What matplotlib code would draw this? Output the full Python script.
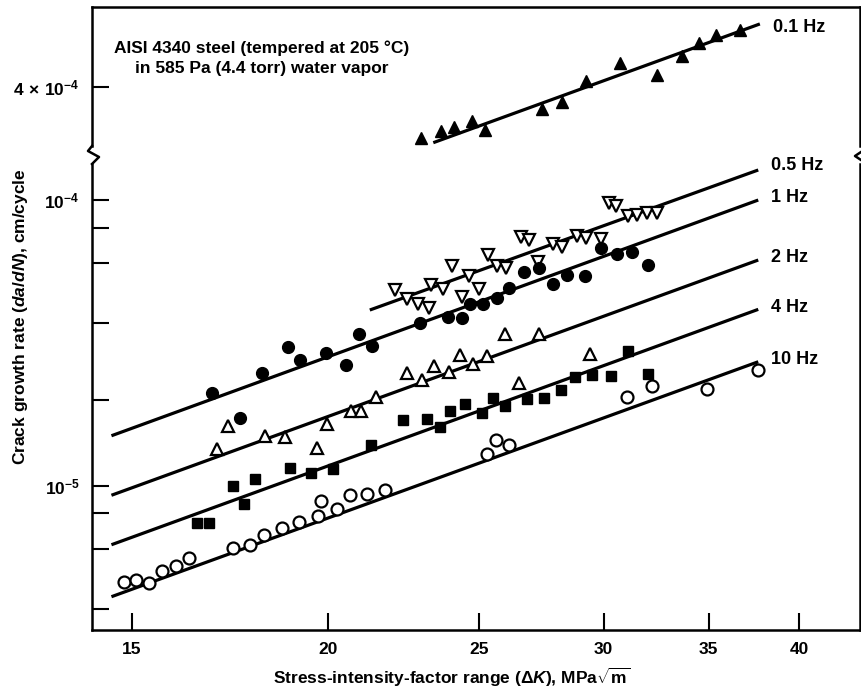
import matplotlib
matplotlib.use("Agg")
import matplotlib.pyplot as plt
from matplotlib.lines import Line2D

plt.rcParams['font.family'] = ['Liberation Sans', 'DejaVu Sans']
plt.rcParams['mathtext.fontset'] = 'custom'
plt.rcParams['mathtext.rm'] = 'Liberation Sans:bold'
plt.rcParams['mathtext.it'] = 'Liberation Sans:italic:bold'
plt.rcParams['mathtext.bf'] = 'Liberation Sans:bold'

# ---- data (dK in MPa*sqrt(m), da/dN in cm/cycle) ----
dk_01hz = [22.94, 23.62, 24.09, 24.72, 25.21, 27.39, 28.23, 29.24, 30.73, 32.45,
           33.65, 34.50, 35.36, 36.65]
rate_01hz = [2.64e-4, 2.80e-4, 2.90e-4, 3.04e-4, 2.82e-4, 3.33e-4, 3.54e-4, 4.20e-4,
             4.83e-4, 4.40e-4, 5.12e-4, 5.70e-4, 6.07e-4, 6.32e-4]

dk_05hz = [22.09, 22.49, 22.84, 23.21, 23.28, 23.68, 24.01, 24.35, 24.63, 24.98,
           25.32, 25.66, 26.00, 26.57, 26.89, 27.25, 27.86, 28.23, 28.84, 29.24,
           29.90, 30.24, 30.56, 31.09, 31.50, 31.97, 32.43]
rate_05hz = [4.86e-5, 4.50e-5, 4.33e-5, 4.20e-5, 5.06e-5, 4.88e-5, 5.86e-5, 4.59e-5,
             5.44e-5, 4.88e-5, 6.42e-5, 5.86e-5, 5.80e-5, 7.44e-5, 7.26e-5, 6.08e-5,
             7.03e-5, 6.83e-5, 7.48e-5, 7.36e-5, 7.30e-5, 9.74e-5, 9.53e-5, 8.79e-5,
             8.83e-5, 9.04e-5, 9.04e-5]

dk_1hz = [16.88, 17.58, 18.17, 18.88, 19.22, 19.95, 20.55, 20.93, 21.35, 22.91,
          23.87, 24.38, 24.66, 25.12, 25.64, 26.10, 26.69, 27.28, 27.87, 28.41,
          29.21, 29.88, 30.58, 31.27, 32.04]
rate_1hz = [2.11e-5, 1.72e-5, 2.49e-5, 3.07e-5, 2.75e-5, 2.92e-5, 2.64e-5, 3.40e-5,
            3.09e-5, 3.72e-5, 3.91e-5, 3.85e-5, 4.33e-5, 4.33e-5, 4.54e-5, 4.91e-5,
            5.60e-5, 5.76e-5, 5.07e-5, 5.47e-5, 5.43e-5, 6.77e-5, 6.45e-5, 6.56e-5,
            5.90e-5]

dk_2hz = [16.99, 17.28, 18.24, 18.79, 19.70, 19.98, 20.71, 21.01, 21.47, 22.48,
          22.99, 23.38, 23.91, 24.31, 24.77, 25.26, 25.96, 26.49, 27.30, 29.42]
rate_2hz = [1.34e-5, 1.62e-5, 1.49e-5, 1.48e-5, 1.355e-5, 1.65e-5, 1.82e-5, 1.82e-5,
            2.05e-5, 2.49e-5, 2.34e-5, 2.62e-5, 2.51e-5, 2.87e-5, 2.66e-5, 2.84e-5,
            3.40e-5, 2.29e-5, 3.39e-5, 2.90e-5]

dk_4hz = [16.51, 16.80, 17.41, 17.69, 17.99, 18.92, 19.53, 20.16, 21.33, 22.33,
          23.15, 23.59, 23.93, 24.46, 25.08, 25.50, 25.97, 26.80, 27.47, 28.19,
          28.76, 29.50, 30.34, 31.09, 32.03]
rate_4hz = [7.39e-6, 7.39e-6, 9.98e-6, 8.61e-6, 1.055e-5, 1.156e-5, 1.105e-5, 1.14e-5,
            1.39e-5, 1.70e-5, 1.71e-5, 1.61e-5, 1.83e-5, 1.94e-5, 1.80e-5, 2.02e-5,
            1.90e-5, 2.01e-5, 2.02e-5, 2.16e-5, 2.41e-5, 2.45e-5, 2.43e-5, 2.96e-5,
            2.46e-5]

dk_10hz = [14.83, 15.10, 15.39, 15.68, 16.00, 16.32, 17.40, 17.84, 18.21, 18.70,
           19.18, 19.72, 19.82, 20.29, 20.67, 21.20, 21.77, 25.27, 25.62, 26.12,
           31.03, 32.21, 34.91, 37.65]
rate_10hz = [4.60e-6, 4.66e-6, 4.58e-6, 5.02e-6, 5.24e-6, 5.57e-6, 6.04e-6, 6.19e-6,
             6.72e-6, 7.14e-6, 7.46e-6, 7.86e-6, 8.85e-6, 8.32e-6, 9.26e-6, 9.33e-6,
             9.64e-6, 1.29e-5, 1.45e-5, 1.39e-5, 2.04e-5, 2.23e-5, 2.18e-5, 2.54e-5]

# fitted lines: end points (dK, da/dN)
fit_dk = {
    '0.1 Hz': [23.36, 37.74],
    '0.5 Hz': [21.28, 37.65],
    '1 Hz': [14.56, 37.65],
    '2 Hz': [14.56, 37.65],
    '4 Hz': [14.56, 37.65],
    '10 Hz': [14.56, 37.65],
}
fit_rate = {
    '0.1 Hz': [2.547e-4, 6.63e-4],
    '0.5 Hz': [4.121e-5, 1.274e-4],
    '1 Hz': [1.496e-5, 1.0e-4],
    '2 Hz': [9.26e-6, 6.166e-5],
    '4 Hz': [6.215e-6, 4.143e-5],
    '10 Hz': [4.088e-6, 2.716e-5],
}

x_ticks = [15, 20, 25, 30, 35, 40]
y_major_bot = [1e-5, 1e-4]
y_major_bot_labels = [r'$10^{-5}$', r'$10^{-4}$']
y_minor_bot = [3.7e-6, 6e-6, 8e-6, 2e-5, 3.7e-5, 6e-5, 8e-5]
y_major_top = [4e-4]
y_major_top_labels = [r'$4\,\times\,10^{-4}$']

W, H = 862, 692
fig = plt.figure(figsize=(W / 100, H / 100), dpi=100)

left_px, right_px = 92, 860
top_px, brk_hi, brk_lo, bot_px = 7, 146, 164, 630


def frac_box(y0, y1):
    return [left_px / W, 1 - y1 / H, (right_px - left_px) / W, (y1 - y0) / H]


ax_top = fig.add_axes(frac_box(top_px, brk_hi))
ax_bot = fig.add_axes(frac_box(brk_lo, bot_px))

for ax in (ax_top, ax_bot):
    ax.set_xscale('log')
    ax.set_yscale('log')
    ax.set_xlim(14.15, 43.72)
    ax.tick_params(which='both', direction='in', width=1.5, colors='black',
                   labelsize=12.5, pad=9, length=12)
    for s in ax.spines.values():
        s.set_linewidth(1.8)
    ax.set_xticks(x_ticks)
    ax.xaxis.set_minor_locator(plt.NullLocator())
    ax.yaxis.set_minor_formatter(plt.NullFormatter())
    ax.tick_params(axis='y', right=False)
    ax.tick_params(axis='x', top=False)

ax_top.set_ylim(2.480e-4, 7.60e-4)
ax_bot.set_ylim(3.126e-6, 1.337e-4)

ax_top.spines['bottom'].set_visible(False)
ax_top.set_xticks([])
ax_top.xaxis.set_minor_locator(plt.NullLocator())
ax_bot.spines['top'].set_visible(False)

ax_bot.set_xticklabels([str(t) for t in x_ticks], fontweight='bold')
ax_bot.set_yticks(y_major_bot)
ax_bot.set_yticklabels(y_major_bot_labels)
ax_bot.set_yticks(y_minor_bot, minor=True)
ax_top.set_yticks(y_major_top)
ax_top.set_yticklabels(y_major_top_labels)
ax_top.yaxis.set_minor_locator(plt.NullLocator())

# fit lines
for name in fit_dk:
    ax = ax_top if name == '0.1 Hz' else ax_bot
    ax.plot(fit_dk[name], fit_rate[name], color='black', lw=2.3,
            solid_capstyle='butt', zorder=2)

# data points
mk = dict(linestyle='none', color='black', zorder=3, clip_on=False)
ax_top.plot(dk_01hz, rate_01hz, marker='^', ms=8.5, mfc='black', mec='black', **mk)
ax_bot.plot(dk_05hz, rate_05hz, marker='v', ms=8.6, mfc='white', mec='black',
            mew=1.6, **mk)
ax_bot.plot(dk_1hz, rate_1hz, marker='o', ms=8.5, mfc='black', mec='black', **mk)
ax_bot.plot(dk_2hz, rate_2hz, marker='^', ms=8.8, mfc='white', mec='black',
            mew=1.6, **mk)
ax_bot.plot(dk_4hz, rate_4hz, marker='s', ms=7.8, mfc='black', mec='black', **mk)
ax_bot.plot(dk_10hz, rate_10hz, marker='o', ms=8.6, mfc='white', mec='black',
            mew=1.6, **mk)

# frequency labels at the right end of each line
label_dy = {'0.1 Hz': -4, '0.5 Hz': 4, '1 Hz': 3, '2 Hz': 3, '4 Hz': 2, '10 Hz': 2}
for name in fit_dk:
    ax = ax_top if name == '0.1 Hz' else ax_bot
    ax.annotate(name, xy=(fit_dk[name][1], fit_rate[name][1]),
                xytext=(13, label_dy[name]), textcoords='offset pixels',
                ha='left', va='center', fontsize=13, fontweight='bold',
                annotation_clip=False)

# header text
fig.text(262 / W, 1 - 48 / H, 'AISI 4340 steel (tempered at 205 \u00b0C)',
         ha='center', va='center', fontsize=12.5, fontweight='bold')
fig.text(262 / W, 1 - 68 / H, 'in 585 Pa (4.4 torr) water vapor',
         ha='center', va='center', fontsize=12.5, fontweight='bold')

fig.text(21 / W, 1 - 317 / H, r'Crack growth rate ($da/dN$), cm/cycle',
         rotation=90, ha='center', va='center', fontsize=12.5, fontweight='bold')
fig.text(452 / W, 1 - 677 / H,
         r'Stress-intensity-factor range ($\Delta K$), MPa$\sqrt{\mathrm{m}}$',
         ha='center', va='center', fontsize=12.5, fontweight='bold')

# axis break marks (figure pixels)
px = lambda x, y: (x / 100, (H - y) / 100)
zig = [px(left_px, brk_hi), px(left_px - 4, brk_hi + 5), px(left_px + 7, brk_hi + 11),
       px(left_px, brk_lo)]
fig.add_artist(Line2D([p[0] for p in zig], [p[1] for p in zig], color='black', lw=1.8,
                      transform=fig.dpi_scale_trans))
zag = [px(right_px + 1, brk_hi + 6), px(right_px - 5, brk_hi + 10),
       px(right_px + 1, brk_hi + 14)]
fig.add_artist(Line2D([p[0] for p in zag], [p[1] for p in zag], color='black', lw=1.8,
                      transform=fig.dpi_scale_trans))

fig.savefig('out.png', dpi=100)
